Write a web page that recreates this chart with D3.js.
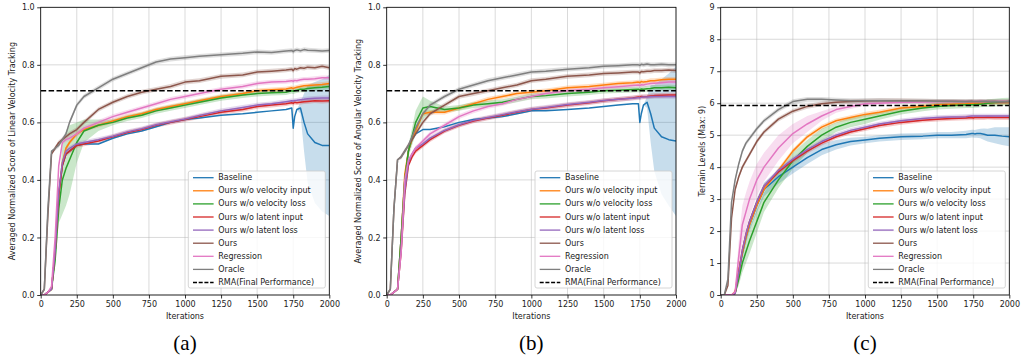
<!DOCTYPE html>
<html>
<head>
<meta charset="utf-8">
<script src="https://cdn.jsdelivr.net/npm/d3@7"></script>
<style>
  body { margin: 0; background: #fff; }
  svg { display: block; font-family: "DejaVu Sans", sans-serif; }
</style>
</head>
<body>
<svg id="chart" width="1021" height="360"></svg>
<script>
// shared iteration grid (sampled from the curves)
const iters = [0,25,50,75,100,125,150,175,200,250,300,400,500,600,700,800,900,1000,1100,1250,1400,1500,1600,1700,1740,1750,1760,1775,1800,1825,1850,1900,1950,2000];

const names = ["Baseline","Ours w/o velocity input","Ours w/o velocity loss","Ours w/o latent input","Ours w/o latent loss","Ours","Regression","Oracle"];
const colors = ["#1f77b4","#ff7f0e","#2ca02c","#d62728","#9467bd","#8c564b","#e377c2","#7f7f7f"];
const xTicks = [0,250,500,750,1000,1250,1500,1750,2000];

// (a) linear velocity tracking
const linBaseline   = [0,0,0.01,0.02,0.15,0.35,0.45,0.49,0.5,0.52,0.525,0.525,0.545,0.56,0.57,0.585,0.6,0.61,0.615,0.625,0.63,0.635,0.64,0.645,0.65,0.58,0.62,0.645,0.65,0.6,0.56,0.53,0.52,0.52];
const linNoVelIn    = [0,0,0.01,0.02,0.15,0.35,0.46,0.51,0.53,0.56,0.575,0.59,0.605,0.62,0.63,0.645,0.655,0.665,0.675,0.69,0.7,0.71,0.713,0.716,0.72,0.718,0.72,0.722,0.725,0.727,0.728,0.73,0.732,0.735];
const linNoVelLoss  = [0,0,0.01,0.02,0.12,0.3,0.4,0.44,0.47,0.53,0.57,0.59,0.6,0.615,0.625,0.64,0.65,0.66,0.67,0.685,0.695,0.7,0.703,0.705,0.71,0.708,0.71,0.712,0.715,0.715,0.718,0.72,0.722,0.725];
const linNoLatIn    = [0,0,0.01,0.02,0.15,0.35,0.45,0.49,0.5,0.52,0.525,0.535,0.55,0.565,0.575,0.59,0.6,0.61,0.62,0.635,0.645,0.655,0.66,0.665,0.668,0.666,0.67,0.668,0.67,0.672,0.673,0.675,0.674,0.675];
const linNoLatLoss  = [0,0,0.01,0.02,0.15,0.36,0.46,0.5,0.51,0.525,0.53,0.54,0.552,0.567,0.578,0.592,0.602,0.612,0.624,0.64,0.652,0.66,0.665,0.672,0.675,0.674,0.676,0.677,0.679,0.68,0.682,0.684,0.685,0.685];
const linOurs       = [0,0.02,0.28,0.49,0.51,0.53,0.54,0.55,0.56,0.575,0.6,0.645,0.67,0.69,0.705,0.715,0.725,0.74,0.745,0.76,0.765,0.775,0.778,0.782,0.785,0.78,0.787,0.785,0.79,0.788,0.792,0.79,0.795,0.79];
const linRegr       = [0,0,0.01,0.03,0.2,0.45,0.53,0.54,0.545,0.56,0.58,0.6,0.62,0.635,0.65,0.665,0.68,0.69,0.7,0.715,0.725,0.735,0.74,0.742,0.745,0.743,0.746,0.745,0.748,0.75,0.75,0.752,0.755,0.755];
const linOracle     = [0,0.02,0.3,0.5,0.51,0.52,0.54,0.56,0.6,0.66,0.69,0.72,0.75,0.77,0.79,0.81,0.82,0.825,0.83,0.835,0.84,0.845,0.843,0.848,0.85,0.846,0.85,0.852,0.849,0.853,0.851,0.85,0.848,0.85];
const linBaselineSd  = [0,0,0,0,0,0,0,0,0,0,0,0,0,0,0,0,0,0,0,0,0,0,0,0,0,0,0,0,0.02,0.1,0.17,0.21,0.23,0.245];
const linNoVelLossSd = [0,0,0,0,0.02,0.05,0.12,0.13,0.12,0.07,0.04,0.02,0.01,0.01,0.01,0.01,0.01,0.01,0.01,0.01,0.01,0.01,0.01,0.01,0.01,0.01,0.01,0.01,0.01,0.01,0.01,0.01,0.01,0.01];
const linRma = 0.71;

// (b) angular velocity tracking
const angBaseline   = [0,0,0.01,0.02,0.2,0.4,0.5,0.54,0.56,0.575,0.575,0.585,0.6,0.61,0.615,0.62,0.63,0.64,0.64,0.645,0.65,0.655,0.66,0.665,0.665,0.6,0.63,0.66,0.67,0.63,0.58,0.55,0.54,0.535];
const angNoVelIn    = [0,0,0.01,0.02,0.2,0.42,0.5,0.54,0.57,0.63,0.635,0.635,0.65,0.665,0.68,0.69,0.7,0.705,0.71,0.72,0.725,0.73,0.735,0.738,0.74,0.738,0.742,0.74,0.742,0.745,0.745,0.748,0.75,0.75];
const angNoVelLoss  = [0,0,0.01,0.02,0.2,0.4,0.5,0.55,0.6,0.65,0.655,0.645,0.65,0.66,0.665,0.67,0.68,0.69,0.693,0.7,0.705,0.71,0.712,0.714,0.715,0.713,0.716,0.715,0.717,0.718,0.72,0.72,0.722,0.72];
const angNoLatIn    = [0,0,0.01,0.02,0.15,0.35,0.45,0.48,0.5,0.52,0.54,0.57,0.59,0.605,0.615,0.625,0.635,0.645,0.65,0.66,0.668,0.675,0.68,0.685,0.688,0.687,0.69,0.689,0.69,0.692,0.693,0.694,0.695,0.695];
const angNoLatLoss  = [0,0,0.01,0.02,0.16,0.36,0.46,0.49,0.51,0.525,0.545,0.572,0.592,0.607,0.617,0.627,0.637,0.646,0.652,0.662,0.67,0.676,0.68,0.684,0.686,0.685,0.687,0.688,0.688,0.689,0.69,0.69,0.69,0.69];
const angOurs       = [0,0.02,0.3,0.47,0.48,0.5,0.52,0.54,0.56,0.6,0.63,0.66,0.69,0.7,0.71,0.72,0.73,0.745,0.75,0.76,0.765,0.77,0.772,0.775,0.775,0.772,0.777,0.776,0.778,0.778,0.78,0.78,0.782,0.78];
const angRegr       = [0,0,0.01,0.02,0.15,0.4,0.47,0.49,0.51,0.535,0.56,0.59,0.62,0.64,0.655,0.665,0.68,0.69,0.7,0.71,0.715,0.72,0.724,0.728,0.73,0.728,0.731,0.73,0.733,0.735,0.736,0.738,0.74,0.74];
const angOracle     = [0,0.02,0.3,0.47,0.48,0.5,0.52,0.55,0.58,0.63,0.66,0.69,0.715,0.73,0.745,0.755,0.765,0.775,0.778,0.785,0.79,0.795,0.797,0.8,0.8,0.798,0.802,0.8,0.803,0.8,0.8,0.802,0.8,0.8];
const angBaselineSd  = [0,0,0,0,0,0,0,0,0,0,0,0,0,0,0,0,0,0,0,0,0,0,0,0,0,0,0,0,0.02,0.1,0.15,0.2,0.23,0.26];
const angNoVelLossSd = [0,0,0,0,0.01,0.02,0.02,0.03,0.04,0.04,0.02,0.01,0.01,0.01,0.01,0.01,0.01,0.01,0.01,0.01,0.01,0.01,0.01,0.01,0.01,0.01,0.01,0.01,0.01,0.01,0.01,0.01,0.01,0.01];
const angRma = 0.71;

// (c) terrain levels
const terBaseline   = [0,0,0,0,0.05,0.7,1.3,1.8,2.2,2.8,3.3,3.7,4.0,4.3,4.55,4.7,4.8,4.85,4.9,4.95,4.97,5.0,5.0,5.02,5.05,5.05,5.04,5.05,5.05,5.03,5.0,5.0,4.97,4.95];
const terNoVelIn    = [0,0,0,0,0.1,0.8,1.3,1.8,2.2,2.8,3.3,3.9,4.5,4.95,5.25,5.45,5.55,5.65,5.72,5.85,5.9,5.95,5.97,5.98,6.0,6.0,6.0,6.0,6.0,6.0,6.01,6.02,6.02,6.02];
const terNoVelLoss  = [0,0,0,0,0.05,0.5,1.0,1.35,1.7,2.3,2.9,3.6,4.2,4.65,5.0,5.25,5.4,5.5,5.6,5.75,5.85,5.9,5.93,5.95,5.95,5.95,5.96,5.96,5.97,5.98,6.0,6.02,6.04,6.05];
const terNoLatIn    = [0,0,0,0,0.05,0.7,1.4,1.9,2.3,2.9,3.4,3.85,4.2,4.5,4.75,4.95,5.1,5.2,5.3,5.4,5.47,5.5,5.52,5.54,5.55,5.54,5.55,5.55,5.55,5.55,5.56,5.55,5.55,5.55];
const terNoLatLoss  = [0,0,0,0,0.05,0.7,1.4,1.9,2.3,2.9,3.4,3.9,4.25,4.55,4.8,5.0,5.15,5.25,5.35,5.45,5.52,5.55,5.57,5.58,5.6,5.6,5.6,5.6,5.6,5.6,5.6,5.6,5.6,5.6];
const terOurs       = [0,0,0.3,2.4,3.3,3.7,4.0,4.2,4.4,4.8,5.1,5.5,5.75,5.9,5.98,6.03,6.05,6.07,6.08,6.08,6.07,6.06,6.06,6.05,6.06,6.05,6.05,6.05,6.06,6.05,6.05,6.05,6.04,6.05];
const terRegr       = [0,0,0,0,0.1,1.2,2.2,2.6,3.0,3.6,4.0,4.6,5.05,5.35,5.6,5.8,5.9,5.98,6.0,6.03,6.04,6.05,6.05,6.05,6.05,6.05,6.05,6.05,6.06,6.05,6.05,6.05,6.06,6.05];
const terOracle     = [0,0,0.5,2.9,3.6,4.1,4.5,4.75,4.9,5.2,5.45,5.8,6.05,6.12,6.12,6.1,6.08,6.08,6.08,6.07,6.07,6.06,6.06,6.05,6.06,6.05,6.05,6.05,6.05,6.06,6.05,6.05,6.05,6.05];
const terBaselineSd  = [0,0,0,0,0,0.1,0.15,0.2,0.2,0.22,0.22,0.22,0.2,0.2,0.18,0.15,0.12,0.1,0.1,0.1,0.1,0.1,0.1,0.12,0.12,0.12,0.12,0.13,0.15,0.18,0.2,0.25,0.28,0.3];
const terNoVelLossSd = [0,0,0,0,0,0.2,0.3,0.35,0.4,0.35,0.3,0.25,0.25,0.2,0.2,0.15,0.15,0.15,0.12,0.1,0.1,0.1,0.1,0.1,0.1,0.1,0.1,0.1,0.1,0.1,0.12,0.12,0.12,0.12];
const terRegrSd      = [0,0,0,0,0.1,0.5,0.6,0.6,0.55,0.5,0.45,0.4,0.3,0.25,0.15,0.1,0.08,0.06,0.05,0.05,0.05,0.05,0.05,0.05,0.05,0.05,0.05,0.05,0.05,0.05,0.05,0.05,0.05,0.05];
const terRma = 5.93;

const panels = [
  { left: 40.7, right: 329.3, yMax: 1, yTicks: [0,0.2,0.4,0.6,0.8,1.0], fmt: d3.format(".1f"),
    ylabel: "Averaged Normalized Score of Linear Velocity Tracking", labelX: 12, caption: "(a)", rma: linRma,
    series: [linBaseline,linNoVelIn,linNoVelLoss,linNoLatIn,linNoLatLoss,linOurs,linRegr,linOracle],
    sd: [linBaselineSd,null,linNoVelLossSd,null,null,null,null,null] },
  { left: 386.7, right: 676, yMax: 1, yTicks: [0,0.2,0.4,0.6,0.8,1.0], fmt: d3.format(".1f"),
    ylabel: "Averaged Normalized Score of Angular Velocity Tracking", labelX: 358, caption: "(b)", rma: angRma,
    series: [angBaseline,angNoVelIn,angNoVelLoss,angNoLatIn,angNoLatLoss,angOurs,angRegr,angOracle],
    sd: [angBaselineSd,null,angNoVelLossSd,null,null,null,null,null] },
  { left: 720.7, right: 1009.3, yMax: 9, yTicks: [0,1,2,3,4,5,6,7,8,9], fmt: d3.format("d"),
    ylabel: "Terrain Levels (Max: 9)", labelX: 702, caption: "(c)", rma: terRma,
    series: [terBaseline,terNoVelIn,terNoVelLoss,terNoLatIn,terNoLatLoss,terOurs,terRegr,terOracle],
    sd: [terBaselineSd,null,terNoVelLossSd,null,null,null,terRegrSd,null] }
];

const plotTop = 7.3, plotBottom = 295;
const svg = d3.select("#chart");
svg.append("rect").attr("width",1021).attr("height",360).attr("fill","#fff");

panels.forEach((p,pi) => {
  const x = d3.scaleLinear().domain([0,2000]).range([p.left,p.right]);
  const y = d3.scaleLinear().domain([0,p.yMax]).range([plotBottom,plotTop]);
  const g = svg.append("g");
  const clipId = "clip"+pi;
  g.append("clipPath").attr("id",clipId).append("rect")
    .attr("x",p.left).attr("y",plotTop).attr("width",p.right-p.left).attr("height",plotBottom-plotTop);

  // grid
  g.append("g").selectAll("line").data(xTicks).join("line")
    .attr("x1",d=>x(d)).attr("x2",d=>x(d)).attr("y1",plotTop).attr("y2",plotBottom)
    .attr("stroke","#b0b0b0").attr("stroke-opacity",0.6).attr("stroke-width",0.8);
  g.append("g").selectAll("line").data(p.yTicks).join("line")
    .attr("y1",d=>y(d)).attr("y2",d=>y(d)).attr("x1",p.left).attr("x2",p.right)
    .attr("stroke","#b0b0b0").attr("stroke-opacity",0.6).attr("stroke-width",0.8);

  const plot = g.append("g").attr("clip-path",`url(#${clipId})`);
  const defSd = p.yMax*0.008;

  // std bands
  p.series.forEach((vals,si) => {
    const sd = p.sd[si];
    const area = d3.area()
      .x(i=>x(iters[i]))
      .y0(i=>y(vals[i]-(sd ? sd[i] : (i<4 ? 0 : defSd))))
      .y1(i=>y(vals[i]+(sd ? sd[i] : (i<4 ? 0 : defSd))));
    plot.append("path").attr("d",area(d3.range(iters.length)))
      .attr("fill",colors[si]).attr("fill-opacity",0.25).attr("stroke","none");
  });

  // mean curves
  p.series.forEach((vals,si) => {
    const line = d3.line().x(i=>x(iters[i])).y(i=>y(vals[i]));
    plot.append("path").attr("d",line(d3.range(iters.length)))
      .attr("fill","none").attr("stroke",colors[si]).attr("stroke-width",1.5)
      .attr("stroke-linejoin","round");
  });

  // RMA final performance
  plot.append("line").attr("x1",p.left).attr("x2",p.right)
    .attr("y1",y(p.rma)).attr("y2",y(p.rma))
    .attr("stroke","#000").attr("stroke-width",1.4).attr("stroke-dasharray","5.5,2.4");

  // axes
  const xAxis = g.append("g").attr("transform",`translate(0,${plotBottom})`)
    .call(d3.axisBottom(x).tickValues(xTicks).tickFormat(d3.format("d")).tickSize(3.5).tickPadding(2.5).tickSizeOuter(0));
  const yAxis = g.append("g").attr("transform",`translate(${p.left},0)`)
    .call(d3.axisLeft(y).tickValues(p.yTicks).tickFormat(p.fmt).tickSize(3.5).tickPadding(2.5).tickSizeOuter(0));
  [xAxis,yAxis].forEach(a => {
    a.select(".domain").remove();
    a.selectAll("line").attr("stroke","#000").attr("stroke-width",0.8);
    a.selectAll("text").attr("font-family","DejaVu Sans").attr("font-size",8).attr("fill","#222");
  });
  g.append("rect").attr("x",p.left).attr("y",plotTop).attr("width",p.right-p.left).attr("height",plotBottom-plotTop)
    .attr("fill","none").attr("stroke","#000").attr("stroke-width",0.8);

  // labels
  const cx = (p.left+p.right)/2;
  g.append("text").attr("x",cx).attr("y",319).attr("text-anchor","middle")
    .attr("font-size",8).attr("fill","#222").text("Iterations");
  g.append("text").attr("transform",`translate(${p.labelX},${(plotTop+plotBottom)/2}) rotate(-90)`)
    .attr("text-anchor","middle").attr("dominant-baseline","middle").attr("font-size",8).attr("fill","#222").text(p.ylabel);
  g.append("text").attr("x",cx).attr("y",350).attr("text-anchor","middle")
    .attr("font-family","Liberation Serif, serif").attr("font-size",21).text(p.caption);

  // legend
  const lw = 137, lh = 117, lx = p.right-4-lw, ly = plotBottom-7-lh;
  const leg = g.append("g").attr("transform",`translate(${lx},${ly})`);
  leg.append("rect").attr("width",lw).attr("height",lh).attr("rx",2)
    .attr("fill","#fff").attr("fill-opacity",0.8).attr("stroke","#cccccc").attr("stroke-width",0.8);
  const items = names.map((n,i)=>({name:n,color:colors[i],dash:null}))
    .concat([{name:"RMA(Final Performance)",color:"#000",dash:"4,1.7"}]);
  const row = leg.selectAll("g").data(items).join("g")
    .attr("transform",(d,i)=>`translate(0,${6.7+i*13.1})`);
  row.append("line").attr("x1",4.7).attr("x2",25.3).attr("y1",0).attr("y2",0)
    .attr("stroke",d=>d.color).attr("stroke-width",1.3).attr("stroke-dasharray",d=>d.dash);
  row.append("text").attr("x",30).attr("y",0).attr("dominant-baseline","central")
    .attr("font-size",8).attr("fill","#222").text(d=>d.name);
});
</script>
</body>
</html>
